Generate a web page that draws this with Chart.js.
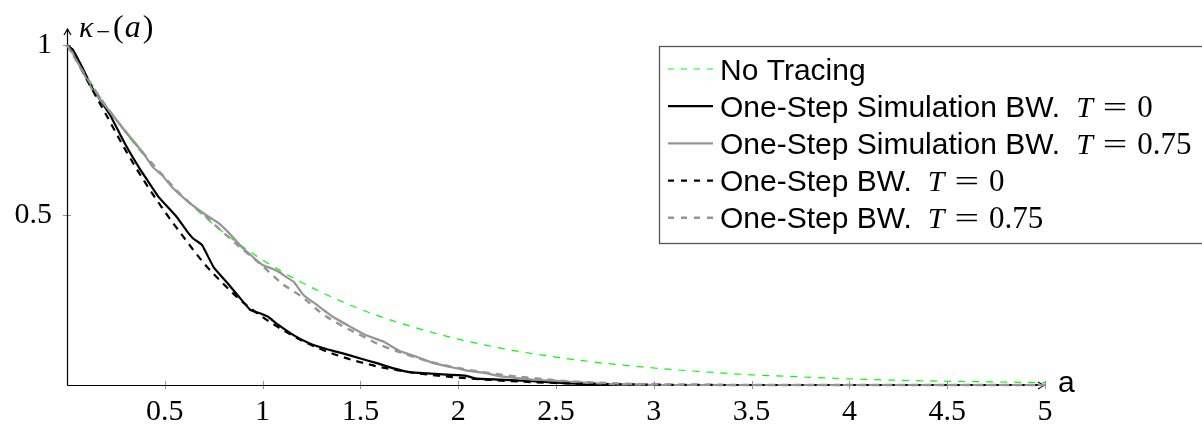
<!DOCTYPE html>
<html>
<head>
<meta charset="utf-8">
<script src="https://cdn.jsdelivr.net/npm/chart.js@4/dist/chart.umd.min.js"></script>
<style>
  html, body { margin: 0; padding: 0; background: #fff; }
  #wrap { width: 1202px; height: 425px; position: relative; }
</style>
</head>
<body>
<div id="wrap"><canvas id="c" width="1202" height="425"></canvas></div>
<script>
// Series: survival-type curve kappa_-(a) against a
const seriesNames = ['No Tracing', 'One-Step Simulation BW.', 'One-Step Simulation BW.', 'One-Step BW.', 'One-Step BW.'];
const seriesT = [null, '0', '0.75', '0', '0.75'];

const noTracingA = [0, 0.25, 0.5, 0.75, 1, 1.25, 1.5, 1.75, 2, 2.25, 2.5, 2.75, 3, 3.25, 3.5, 3.75, 4, 4.25, 4.5, 4.75, 5];
const noTracingK = [1.000, 0.779, 0.607, 0.472, 0.368, 0.287, 0.223, 0.174, 0.135, 0.105, 0.082, 0.064, 0.050, 0.039, 0.030, 0.024, 0.018, 0.014, 0.011, 0.009, 0.007];

const simT0A = [0, 0.03, 0.08, 0.13, 0.22, 0.30, 0.37, 0.41, 0.47, 0.56, 0.61, 0.645, 0.69, 0.75, 0.82, 0.88, 0.935, 0.99, 1.03, 1.07, 1.16, 1.24, 1.28, 1.33, 1.41, 1.50, 1.58, 1.67, 1.75, 1.84, 1.92, 2.00, 2.04, 2.09, 2.21, 2.38, 2.50, 2.64, 2.75, 3.0, 5];
const simT0K = [1, 0.986, 0.932, 0.873, 0.794, 0.706, 0.638, 0.603, 0.552, 0.495, 0.455, 0.431, 0.412, 0.346, 0.300, 0.259, 0.222, 0.210, 0.200, 0.181, 0.146, 0.122, 0.114, 0.105, 0.093, 0.078, 0.065, 0.049, 0.038, 0.034, 0.031, 0.029, 0.027, 0.019, 0.016, 0.011, 0.007, 0.003, 0.001, 0, 0];

const simT075A = [0, 0.03, 0.08, 0.13, 0.22, 0.30, 0.39, 0.44, 0.49, 0.54, 0.63, 0.71, 0.77, 0.83, 0.90, 0.97, 1.00, 1.05, 1.09, 1.12, 1.16, 1.21, 1.26, 1.36, 1.45, 1.53, 1.62, 1.70, 1.79, 1.87, 1.96, 2.04, 2.13, 2.21, 2.38, 2.50, 2.64, 2.81, 3.0, 5];
const simT075K = [1, 0.975, 0.922, 0.868, 0.804, 0.745, 0.682, 0.640, 0.615, 0.580, 0.534, 0.500, 0.478, 0.446, 0.402, 0.367, 0.353, 0.342, 0.330, 0.318, 0.303, 0.264, 0.243, 0.200, 0.171, 0.146, 0.127, 0.100, 0.0825, 0.065, 0.053, 0.043, 0.036, 0.026, 0.016, 0.012, 0.007, 0.002, 0, 0];

const bwT0A = [0, 0.05, 0.1, 0.2, 0.3, 0.4, 0.5, 0.6, 0.7, 0.8, 0.9, 1.0, 1.1, 1.2, 1.3, 1.4, 1.5, 1.6, 1.8, 2.0, 2.25, 2.5, 2.75, 3.0, 3.5, 5];
const bwT0K = [1, 0.955, 0.90, 0.795, 0.69, 0.595, 0.51, 0.432, 0.358, 0.297, 0.243, 0.200, 0.163, 0.131, 0.105, 0.084, 0.067, 0.053, 0.034, 0.022, 0.012, 0.006, 0.003, 0.001, 0, 0];

const bwT075A = [0, 0.1, 0.2, 0.3, 0.4, 0.5, 0.6, 0.7, 0.8, 0.9, 1.0, 1.1, 1.2, 1.3, 1.4, 1.5, 1.6, 1.7, 1.8, 1.9, 2.0, 2.2, 2.4, 2.6, 2.8, 3.0, 3.5, 5];
const bwT075K = [1, 0.905, 0.82, 0.745, 0.675, 0.61, 0.55, 0.50, 0.448, 0.398, 0.35, 0.298, 0.26, 0.212, 0.176, 0.147, 0.118, 0.097, 0.078, 0.062, 0.05, 0.032, 0.019, 0.010, 0.005, 0.002, 0, 0];

const xTicks = [0.5, 1, 1.5, 2, 2.5, 3, 3.5, 4, 4.5, 5];
const yTicks = [0.5, 1];

const SERIF = '"Liberation Serif", "DejaVu Serif", serif';
const SANS = '"Liberation Sans", Arial, sans-serif';
const GRAY = '#959595';

function pts(xs, ys) { return xs.map((x, i) => ({ x: x, y: ys[i] })); }

const datasets = [
  { label: seriesNames[0], data: pts(noTracingA, noTracingK), borderColor: '#00ff00', borderWidth: 1.2, borderDash: [7, 7], cubicInterpolationMode: 'monotone', order: 5 },
  { label: seriesNames[1], data: pts(simT0A, simT0K), borderColor: '#000000', borderWidth: 2.2, tension: 0.1, order: 4 },
  { label: seriesNames[2], data: pts(simT075A, simT075K), borderColor: GRAY, borderWidth: 2.2, tension: 0.1, order: 3 },
  { label: seriesNames[3], data: pts(bwT0A, bwT0K), borderColor: '#000000', borderWidth: 2.2, borderDash: [7, 6], cubicInterpolationMode: 'monotone', order: 2 },
  { label: seriesNames[4], data: pts(bwT075A, bwT075K), borderColor: GRAY, borderWidth: 2.4, borderDash: [7, 6], cubicInterpolationMode: 'monotone', order: 1 }
].map(d => Object.assign({ pointRadius: 0, fill: false, clip: false }, d));

function arrowHead(ctx, x, y, dir) {
  // small open arrow head; dir = 'up' | 'right'
  ctx.beginPath();
  if (dir === 'up') {
    ctx.moveTo(x - 3.5, y + 6); ctx.quadraticCurveTo(x - 1, y + 2, x, y); ctx.quadraticCurveTo(x + 1, y + 2, x + 3.5, y + 6);
  } else {
    ctx.moveTo(x - 6, y - 3.5); ctx.quadraticCurveTo(x - 2, y - 1, x, y); ctx.quadraticCurveTo(x - 2, y + 1, x - 6, y + 3.5);
  }
  ctx.stroke();
}

// draws an equals sign stretched to the wider math proportions; returns its width
function drawEquals(ctx, x, base) {
  const sx = 1.45;
  ctx.save();
  ctx.translate(x, base); ctx.scale(sx, 1);
  ctx.fillText('=', 0, 0);
  ctx.restore();
  return ctx.measureText('=').width * sx;
}

const axesPlugin = {
  id: 'axesDecor',
  beforeDatasetsDraw(chart) {
    const { ctx, chartArea, scales } = chart;
    const x = scales.x, y = scales.y;
    const x0 = x.getPixelForValue(0), y0 = y.getPixelForValue(0);
    ctx.save();
    // tick marks crossing the axes
    ctx.strokeStyle = GRAY; ctx.lineWidth = 1;
    xTicks.forEach(v => { const px = Math.round(x.getPixelForValue(v)) + 0.5; ctx.beginPath(); ctx.moveTo(px, y0 - 4); ctx.lineTo(px, y0 + 4); ctx.stroke(); });
    yTicks.forEach(v => { const py = Math.round(y.getPixelForValue(v)) + 0.5; ctx.beginPath(); ctx.moveTo(x0 - 4, py); ctx.lineTo(x0 + 4, py); ctx.stroke(); });
    // axis lines with arrows
    ctx.strokeStyle = '#000'; ctx.lineWidth = 1.2;
    const ax = Math.round(x0) + 0.5, ay = Math.round(y0) + 0.5;
    const yTip = chartArea.top - 16;
    const xTip = x.getPixelForValue(5) - 1;
    ctx.beginPath(); ctx.moveTo(ax, ay); ctx.lineTo(ax, yTip); ctx.stroke();
    ctx.beginPath(); ctx.moveTo(ax, ay); ctx.lineTo(xTip, ay); ctx.stroke();
    arrowHead(ctx, ax, yTip, 'up');
    arrowHead(ctx, xTip, ay, 'right');
    ctx.restore();
  },
  afterDraw(chart) {
    const { ctx, chartArea, scales } = chart;
    const x0 = scales.x.getPixelForValue(0);
    ctx.save();
    ctx.fillStyle = '#000';
    ctx.textBaseline = 'alphabetic';
    // y-axis title: kappa_-(a)
    const base = chartArea.top - 8;
    let cx = x0 + 12;
    ctx.font = 'italic 30px ' + SERIF; ctx.fillText('\u03BA', cx, base);
    cx = x0 + 29;
    ctx.font = '25px ' + SERIF; ctx.fillText('\u2212', cx, base + 3); cx += ctx.measureText('\u2212').width + 3;
    ctx.font = '32px ' + SERIF; ctx.fillText('(', cx, base); cx += ctx.measureText('(').width + 1;
    ctx.font = 'italic 32px ' + SERIF; ctx.fillText('a', cx, base); cx += ctx.measureText('a').width + 2;
    ctx.font = '32px ' + SERIF; ctx.fillText(')', cx, base);
    // x-axis title
    ctx.font = '30px ' + SANS; ctx.textBaseline = 'middle';
    ctx.fillText('a', scales.x.getPixelForValue(5) + 13, scales.y.getPixelForValue(0) - 1);

    // legend box
    const bx = 659.5, by = 46.5, bh = 197;
    ctx.fillStyle = '#fff'; ctx.fillRect(bx, by, 560, bh);
    ctx.strokeStyle = '#555'; ctx.lineWidth = 1.3; ctx.strokeRect(bx, by, 560, bh);
    chart.data.datasets.forEach((ds, i) => {
      const ry = 69 + 37.2 * i;
      const tb = ry + 10.5;
      ctx.save();
      ctx.strokeStyle = ds.borderColor; ctx.lineWidth = ds.borderWidth;
      ctx.setLineDash(ds.borderDash ? [6, 7] : []);
      ctx.beginPath(); ctx.moveTo(668, ry); ctx.lineTo(713, ry); ctx.stroke();
      ctx.restore();
      ctx.fillStyle = '#000'; ctx.textBaseline = 'alphabetic';
      ctx.font = '30px ' + SANS;
      let tx = 720;
      ctx.fillText(ds.label, tx, tb);
      tx += ctx.measureText(ds.label).width;
      if (seriesT[i] !== null) {
        tx += 16;
        ctx.font = 'italic 30px ' + SERIF; ctx.fillText('T', tx, tb); tx += ctx.measureText('T').width + 10;
        ctx.font = '30px ' + SERIF; tx += drawEquals(ctx, tx, tb) + 10;
        ctx.font = '31px ' + SERIF; ctx.fillText(seriesT[i], tx, tb);
      }
    });
    ctx.restore();
  }
};

new Chart(document.getElementById('c'), {
  type: 'line',
  data: { datasets: datasets },
  plugins: [axesPlugin],
  options: {
    responsive: false,
    animation: false,
    events: [],
    layout: { padding: { top: 45, right: 157, left: 0, bottom: 0 } },
    plugins: { legend: { display: false }, tooltip: { enabled: false } },
    scales: {
      x: {
        type: 'linear', min: 0, max: 5,
        afterFit(s) { s.height = 40; },
        afterBuildTicks(s) { s.ticks = [0].concat(xTicks).map(v => ({ value: v })); },
        grid: { display: false, drawTicks: false },
        border: { display: false },
        ticks: { autoSkip: false, maxRotation: 0, padding: 9, color: '#000', font: { family: SERIF, size: 30 },
                 callback: v => (v === 0 ? '' : String(v)) }
      },
      y: {
        type: 'linear', min: 0, max: 1,
        afterFit(s) { s.width = 67; },
        afterBuildTicks(s) { s.ticks = [0].concat(yTicks).map(v => ({ value: v })); },
        grid: { display: false, drawTicks: false },
        border: { display: false },
        ticks: { padding: 15, color: '#000', font: { family: SERIF, size: 30 },
                 callback: v => (v === 0 ? '' : String(v)) }
      }
    }
  }
});
</script>
</body>
</html>
